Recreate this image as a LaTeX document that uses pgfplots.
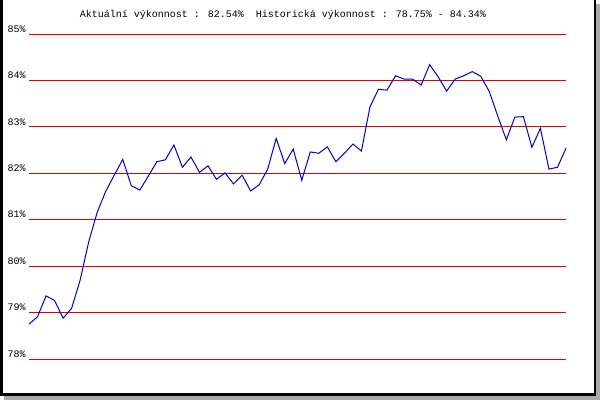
\documentclass[border=0pt]{standalone}
\usepackage{fontspec}
\setmainfont{Liberation Mono}
\setmonofont{Liberation Mono}
\usepackage{pgfplots}
\pgfplotsset{compat=1.18}
\definecolor{gridred}{RGB}{230,0,0}
\definecolor{lineblue}{RGB}{0,0,205}
\definecolor{shadow}{RGB}{170,170,170}
\begin{document}
\begin{tikzpicture}
\useasboundingbox (0,0) rectangle (450pt,300pt);
% shadow and frame
\fill[shadow] (3pt,0) rectangle (450pt,297pt);
\fill[white] (0,3pt) rectangle (447pt,300pt);
\draw[black,line width=1.875pt] (0.94pt,300pt) -- (0.94pt,3.94pt) -- (446.06pt,3.94pt) -- (446.06pt,300pt);
\begin{axis}[
  at={(21.75pt,30.75pt)}, anchor=origin,
  scale only axis,
  width=402.75pt, height=243.75pt,
  xmin=0, xmax=63, ymin=78, ymax=85,
  axis line style={draw=none},
  major tick length=0pt,
  xtick=\empty,
  ytick={78,79,80,81,82,83,84,85},
  ymajorgrids,
  grid style={gridred, line width=0.75pt},
  yticklabel={\pgfmathprintnumber[assume math mode=true,fixed,precision=0]{\tick}\%},
  yticklabel style={font=\fontsize{7.5pt}{8pt}\selectfont, anchor=base east, inner sep=0pt, xshift=-2.4pt, yshift=1.3pt},
  clip=false,
]
\addplot[lineblue, line width=0.75pt, mark=none] coordinates {
(0,78.75) (1,78.91) (2,79.36) (3,79.26) (4,78.88) (5,79.09) (6,79.70) (7,80.52)
(8,81.16) (9,81.61) (10,81.96) (11,82.30) (12,81.73) (13,81.64) (14,81.94) (15,82.25)
(16,82.29) (17,82.61) (18,82.13) (19,82.35) (20,82.02) (21,82.16) (22,81.87) (23,82.01)
(24,81.77) (25,81.96) (26,81.62) (27,81.75) (28,82.09) (29,82.75) (30,82.21) (31,82.52)
(32,81.85) (33,82.46) (34,82.43) (35,82.57) (36,82.25) (37,82.43) (38,82.63) (39,82.48)
(40,83.43) (41,83.81) (42,83.79) (43,84.10) (44,84.03) (45,84.03) (46,83.90) (47,84.34)
(48,84.08) (49,83.77) (50,84.03) (51,84.10) (52,84.19) (53,84.09) (54,83.76) (55,83.23)
(56,82.72) (57,83.21) (58,83.22) (59,82.56) (60,82.97) (61,82.09) (62,82.13) (63,82.54)
};
\end{axis}
\node[anchor=base, inner sep=0pt, font=\fontsize{7.5pt}{8pt}\selectfont] at (212.25pt,287pt)
  {Aktuální výkonnost : 82.54\%\ \ Historická výkonnost : 78.75\% - 84.34\%};
\end{tikzpicture}
\end{document}
